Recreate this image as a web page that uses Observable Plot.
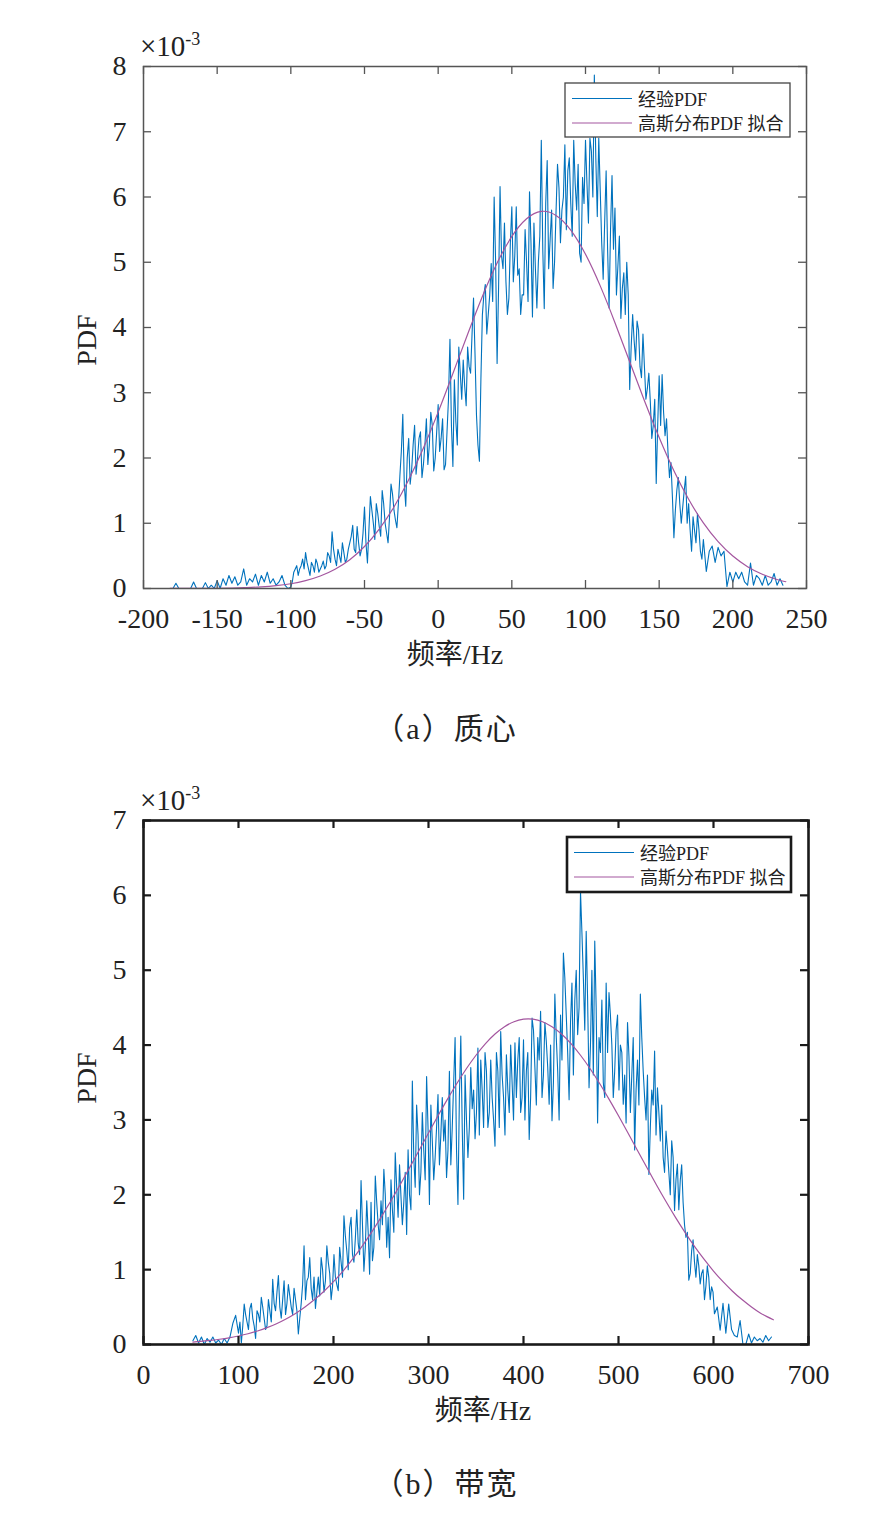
<!DOCTYPE html>
<html>
<head>
<meta charset="utf-8">
<script src="https://cdn.jsdelivr.net/npm/d3@7"></script>
<script src="https://cdn.jsdelivr.net/npm/@observablehq/plot@0.6"></script>
<style>
  html, body { margin: 0; padding: 0; background: #fff; }
  #wrap { position: relative; width: 892px; height: 1518px; overflow: hidden;
          font-family: "Liberation Serif", "Noto Sans CJK SC", serif; color: #222; }
  .panel { position: absolute; left: 0; }
  .cap { position: absolute; left: 0; width: 892px; text-align: center; font-size: 30px; letter-spacing: 2px;
         font-family: "Liberation Serif", "Noto Sans CJK SC", serif; color: #222; }
</style>
</head>
<body>
<div id="wrap">
  <div id="panelA" class="panel" style="top:0px"></div>
  <div class="cap" style="top:704px">（a）质心</div>
  <div id="panelB" class="panel" style="top:760px"></div>
  <div class="cap" style="top:1459px">（b）带宽</div>
</div>
<script>
// ---------------- DATA (PDF values in units of 10^-3) ----------------
const legendLabels = ["经验PDF", "高斯分布PDF 拟合"];
const xLabel = "频率/Hz";
const yLabel = "PDF";

// (a) 质心 centroid
const centroidXTicks = [-200, -150, -100, -50, 0, 50, 100, 150, 200, 250];
const centroidYTicks = [0, 1, 2, 3, 4, 5, 6, 7, 8];
const centroidEmpirical = [
  [-180,0],[-178,0.08],[-176,0],[-174,0],[-172,0],[-170,0],[-168,0],[-166,0.1],[-164,0],[-162,0],
  [-160,0],[-158,0.09],[-156,0],[-154,0.05],[-152,0],[-150,0.12],[-148,0],[-146,0.15],[-144,0.05],[-142,0.2],
  [-140,0.08],[-138,0.18],[-136,0.05],[-134,0.1],[-132,0.3],[-130,0.05],[-128,0.15],[-126,0.1],[-124,0.22],[-122,0.05],
  [-120,0.2],[-118,0.1],[-116,0.25],[-114,0.08],[-112,0.15],[-110,0.05],[-108,0.1],[-106,0.2],[-104,0.05],[-102,0],
  [-100,0.02],[-98,0.25],[-96,0.35],[-94,0.3],[-92,0.45],[-90,0.55],[-88,0.3],[-86,0.4],[-84,0.25],[-82,0.38],
  [-80,0.3],[-78,0.42],[-76,0.35],[-74,0.5],[-72,0.87],[-70,0.45],[-68,0.6],[-66,0.4],[-64,0.55],[-62,0.45],
  [-60,0.7],[-58,0.97],[-56,0.55],[-54,0.7],[-52,0.6],[-50,1.25],[-48,0.39],[-46,1.41],[-44,1.0],[-42,1.3],
  [-40,0.95],[-38,1.5],[-36,1.0],[-34,0.7],[-32,1.6],[-30,1.2],[-28,0.93],[-26,1.72],[-24,2.67],[-22,1.26],
  [-20,2.3],[-18,1.82],[-16,2.5],[-14,2.0],[-12,2.4],[-10,1.9],[-8,2.6],[-6,2.2],[-4,2.5],[-2,2.0],
  [0,2.82],[2,2.3],[4,1.82],[6,2.4],[8,3.82],[10,1.87],[12,2.56],[14,3.7],[16,2.9],[18,3.1],
  [20,3.7],[22,3.3],[24,4.45],[26,2.66],[28,1.95],[30,4.19],[32,4.66],[34,4.2],[36,4.98],[38,6.0],
  [40,3.45],[42,6.16],[44,4.9],[46,4.7],[48,4.45],[50,5.85],[52,5.1],[54,4.8],[56,4.2],[58,4.5],
  [60,5.0],[62,6.08],[64,4.16],[66,4.9],[68,5.0],[70,6.87],[72,4.29],[74,6.56],[76,5.35],[78,4.6],
  [80,5.77],[82,6.14],[84,5.8],[86,6.8],[88,6.4],[90,5.9],[92,6.87],[94,5.8],[96,5.14],[98,6.3],
  [100,6.87],[102,5.6],[104,6.7],[106,7.87],[108,5.7],[110,6.1],[112,4.74],[114,6.4],[116,4.3],[118,6.33],
  [120,5.83],[122,4.95],[124,4.14],[126,4.84],[128,5.0],[130,3.05],[132,4.2],[134,3.5],[136,3.96],[138,3.23],
  [140,3.4],[142,3.07],[144,2.86],[146,2.5],[148,1.61],[150,3.26],[152,3.28],[154,2.34],[156,2.08],[158,1.93],
  [160,0.78],[162,1.51],[164,1.3],[166,1.25],[168,1.72],[170,1.3],[172,0.57],[174,0.89],[176,1.15],[178,0.57],
  [180,0.75],[182,0.26],[184,0.57],[186,0.65],[188,0.4],[190,0.63],[192,0.5],[194,0.57],[196,0.03],[198,0.25],
  [200,0.1],[202,0.25],[204,0.15],[206,0.25],[208,0.1],[210,0.05],[212,0.39],[214,0.05],[216,0.2],[218,0.15],
  [220,0.05],[222,0.2],[224,0.05],[226,0.1],[228,0.23],[230,0.05],[232,0.15],[234,0.05]
];
const centroidEmpiricalOdd = [
  [-99,0.1],[-97,0.3],[-95,0.2],[-93,0.35],[-91,0.3],[-89,0.4],[-87,0.2],[-85,0.35],[-83,0.45],[-81,0.25],
  [-79,0.35],[-77,0.3],[-75,0.55],[-73,0.4],[-71,0.6],[-69,0.35],[-67,0.5],[-65,0.7],[-63,0.4],[-61,0.6],
  [-59,0.8],[-57,0.6],[-55,0.95],[-53,0.5],[-51,0.85],[-49,0.7],[-47,0.9],[-45,1.2],[-43,0.75],[-41,1.15],
  [-39,0.8],[-37,1.3],[-35,0.85],[-33,1.1],[-31,1.45],[-29,1.05],[-27,1.3],[-25,2.1],[-23,1.6],[-21,2.0],
  [-19,1.6],[-17,2.2],[-15,1.75],[-13,2.3],[-11,1.7],[-9,2.2],[-7,1.9],[-5,2.7],[-3,1.8],[-1,2.4],
  [1,2.1],[3,2.6],[5,1.9],[7,2.9],[9,2.5],[11,3.2],[13,2.2],[15,3.3],[17,3.5],[19,2.8],
  [21,3.4],[23,3.9],[25,3.6],[27,2.2],[29,3.2],[31,4.5],[33,3.9],[35,4.5],[37,4.4],[39,5.0],
  [41,4.6],[43,5.1],[45,5.6],[47,4.2],[49,5.3],[51,4.7],[53,5.85],[55,4.9],[57,4.5],[59,5.5],
  [61,4.4],[63,5.3],[65,5.6],[67,4.3],[69,5.4],[71,5.2],[73,5.9],[75,4.9],[77,5.8],[79,5.0],
  [81,6.5],[83,5.3],[85,6.0],[87,5.5],[89,6.6],[91,5.4],[93,6.2],[95,6.5],[97,5.0],[99,5.9],
  [101,6.2],[103,6.9],[105,6.0],[107,6.6],[109,6.9],[111,5.3],[113,5.6],[115,5.2],[117,5.5],[119,5.2],
  [121,4.5],[123,5.4],[125,4.6],[127,4.2],[129,4.5],[131,3.7],[133,3.8],[135,4.1],[137,3.4],[139,3.9],
  [141,2.9],[143,3.3],[145,2.3],[147,2.9],[149,2.5],[151,2.5],[153,2.7],[155,2.6],[157,1.7],[159,1.4],
  [161,1.2],[163,1.7],[165,1.0],[167,1.5],[169,1.0],[171,0.9],[173,1.1],[175,0.7],[177,0.9],[179,0.45]
];
const centroidFit = [
  [-182,0.0004],[-170,0.001],[-160,0.002],[-150,0.004],[-140,0.0075],[-130,0.014],[-120,0.025],[-110,0.043],
  [-100,0.073],[-90,0.12],[-80,0.191],[-70,0.295],[-60,0.442],[-50,0.644],[-40,0.911],[-30,1.25],
  [-20,1.666],[-10,2.154],[0,2.703],[10,3.295],[20,3.897],[30,4.475],[40,4.987],[50,5.396],
  [60,5.667],[70,5.78],[80,5.718],[90,5.494],[100,5.123],[110,4.638],[120,4.074],[130,3.476],
  [140,2.877],[150,2.313],[160,1.804],[170,1.367],[180,1.005],[190,0.717],[200,0.497],[210,0.334],
  [220,0.218],[230,0.138],[236,0.104]
];

// (b) 带宽 bandwidth
const bandwidthXTicks = [0, 100, 200, 300, 400, 500, 600, 700];
const bandwidthYTicks = [0, 1, 2, 3, 4, 5, 6, 7];
const bandwidthEmpirical = [
  [52,0.05],[55,0.12],[58,0.02],[61,0.1],[64,0],[67,0.08],[70,0.03],[73,0.1],[76,0.02],[79,0.06],
  [82,0],[85,0.08],[88,0.02],[91,0.1],[94,0.28],[97,0.39],[100,0.15],[103,0.02],[106,0.54],[109,0.3],
  [112,0.48],[115,0.35],[118,0.08],[121,0.4],[124,0.63],[127,0.35],[130,0.25],[133,0.45],[136,0.87],[139,0.45],
  [142,0.92],[145,0.35],[148,0.85],[151,0.55],[154,0.65],[157,0.4],[160,0.6],[163,0.14],[166,0.55],[169,1.32],
  [172,0.85],[175,1.16],[178,0.6],[181,0.48],[184,0.9],[187,1.16],[190,0.7],[193,1.32],[196,0.95],[199,0.78],
  [202,0.9],[205,0.72],[208,1.1],[211,1.72],[214,1.25],[217,1.56],[220,1.2],[223,1.42],[226,1.35],[229,2.19],
  [232,0.98],[235,1.92],[238,0.94],[241,1.12],[244,2.25],[247,1.6],[250,1.92],[253,2.34],[256,1.3],[259,1.16],
  [262,1.8],[265,2.56],[268,1.7],[271,1.98],[274,1.9],[277,1.47],[280,2.0],[283,3.52],[286,2.1],[289,2.8],
  [292,2.3],[295,2.6],[298,3.58],[301,1.87],[304,2.72],[307,2.5],[310,3.34],[313,2.8],[316,2.72],[319,2.23],
  [322,3.65],[325,2.9],[328,4.1],[331,1.87],[334,4.12],[337,1.94],[340,3.0],[343,2.9],[346,3.15],[349,2.75],
  [352,3.96],[355,3.8],[358,2.9],[361,3.65],[364,3.1],[367,3.3],[370,2.65],[373,3.65],[376,4.18],[379,3.3],
  [382,3.87],[385,3.1],[388,3.5],[391,4.03],[394,3.8],[397,3.1],[400,4.07],[403,3.65],[406,2.74],[409,4.36],
  [412,3.7],[415,4.1],[418,4.45],[421,3.6],[424,4.05],[427,3.21],[430,2.99],[433,4.68],[436,3.65],[439,4.4],
  [442,5.23],[445,4.4],[448,3.27],[451,4.83],[454,4.6],[457,4.14],[460,6.05],[463,4.9],[466,5.52],[469,3.43],
  [472,5.0],[475,5.39],[478,2.96],[481,3.9],[484,3.5],[487,4.83],[490,4.7],[493,4.0],[496,3.65],[499,4.4],
  [502,4.0],[505,3.21],[508,2.96],[511,3.85],[514,3.6],[517,2.6],[520,3.8],[523,4.68],[526,3.65],[529,3.0],
  [532,2.27],[535,3.4],[538,3.92],[541,3.43],[544,2.72],[547,2.5],[550,2.85],[553,2.3],[556,2.72],[559,1.79],
  [562,2.41],[565,2.19],[568,1.9],[571,1.43],[574,0.86],[577,1.25],[580,1.1],[583,1.2],[586,0.81],[589,1.0],
  [592,0.78],[595,0.9],[598,0.77],[601,0.41],[604,0.5],[607,0.19],[610,0.55],[613,0.15],[616,0.54],[619,0.2],
  [622,0.12],[625,0.1],[628,0.32],[631,0],[634,0],[637,0.14],[640,0.02],[643,0.1],[646,0.05],[649,0.08],
  [652,0.03],[655,0.12],[658,0.05],[661,0.1]
];
const bandwidthEmpiricalMid = [
  [101.5,0.3],[104.5,0.25],[107.5,0.4],[110.5,0.2],[113.5,0.55],[116.5,0.25],[119.5,0.45],[122.5,0.3],[125.5,0.5],[128.5,0.2],
  [131.5,0.6],[134.5,0.3],[137.5,0.55],[140.5,0.7],[143.5,0.5],[146.5,0.6],[149.5,0.4],[152.5,0.8],[155.5,0.5],[158.5,0.75],
  [161.5,0.45],[164.5,0.35],[167.5,0.8],[170.5,0.6],[173.5,0.9],[176.5,0.75],[179.5,0.9],[182.5,0.7],[185.5,0.65],[188.5,1.0],
  [191.5,0.85],[194.5,1.1],[197.5,0.6],
  [200.5,1.2],[203.5,0.8],[206.5,1.3],[209.5,0.9],[212.5,1.45],[215.5,1.0],[218.5,1.7],[221.5,1.1],[224.5,1.8],[227.5,1.2],
  [230.5,1.6],[233.5,1.3],[236.5,1.5],[239.5,1.9],[242.5,1.3],[245.5,1.9],[248.5,1.4],[251.5,1.6],[254.5,2.0],[257.5,1.7],
  [260.5,2.2],[263.5,1.5],[266.5,2.1],[269.5,2.4],[272.5,1.6],[275.5,2.3],[278.5,2.6],[281.5,1.8],[284.5,2.5],[287.5,3.2],
  [290.5,2.0],[293.5,3.1],[296.5,2.2],[299.5,2.9],[302.5,3.2],[305.5,2.2],[308.5,2.9],[311.5,2.4],[314.5,3.3],[317.5,3.0],
  [320.5,2.6],[323.5,2.4],[326.5,3.5],[329.5,2.6],[332.5,3.3],[335.5,2.9],[338.5,3.6],[341.5,2.5],[344.5,3.7],[347.5,3.4],
  [350.5,3.1],[353.5,2.8],[356.5,3.4],[359.5,3.9],[362.5,2.9],[365.5,3.8],[368.5,3.0],[371.5,3.9],[374.5,2.9],[377.5,3.6],
  [380.5,2.8],[383.5,3.4],[386.5,4.0],[389.5,3.0],[392.5,3.3],[395.5,4.1],[398.5,3.3],[401.5,3.0],[404.5,3.9],[407.5,3.3],
  [410.5,4.2],[413.5,3.2],[416.5,3.8],[419.5,3.3],[422.5,4.3],[425.5,3.7],[428.5,4.0],[431.5,3.5],[434.5,4.1],[437.5,3.0],
  [440.5,3.8],[443.5,4.9],[446.5,3.9],[449.5,4.3],[452.5,3.6],[455.5,5.0],[458.5,4.5],[461.5,5.5],[464.5,4.2],[467.5,4.6],
  [470.5,4.0],[473.5,3.6],[476.5,4.5],[479.5,4.1],[482.5,4.6],[485.5,3.3],[488.5,3.9],[491.5,4.4],[494.5,3.3],[497.5,4.2],
  [500.5,3.4],[503.5,3.9],[506.5,3.6],[509.5,4.3],[512.5,3.1],[515.5,4.1],[518.5,3.4],[521.5,3.2],[524.5,4.1],[527.5,3.3],
  [530.5,3.6],[533.5,2.9],[536.5,3.2],[539.5,2.8],[542.5,3.1],[545.5,3.2],[548.5,2.3],[551.5,2.6],[554.5,2.0],[557.5,2.5],
  [560.5,2.2],[563.5,1.8],[566.5,2.4],[569.5,1.6],[572.5,1.5],[575.5,0.95],[578.5,1.4],[581.5,0.9],[584.5,1.05],[587.5,0.95],
  [590.5,0.6],[593.5,1.05],[596.5,0.6],[599.5,0.7]
];
const bandwidthFit = [
  [52,0.033],[60,0.041],[70,0.054],[80,0.07],[90,0.089],[100,0.114],[110,0.144],[120,0.181],[130,0.225],
  [140,0.278],[150,0.341],[160,0.415],[170,0.501],[180,0.6],[190,0.712],[200,0.839],[210,0.981],[220,1.139],
  [230,1.311],[240,1.498],[250,1.698],[260,1.91],[270,2.131],[280,2.36],[290,2.592],[300,2.825],[310,3.055],
  [320,3.278],[330,3.49],[340,3.687],[350,3.864],[360,4.019],[370,4.147],[380,4.245],[390,4.312],[400,4.346],
  [410,4.346],[420,4.312],[430,4.245],[440,4.147],[450,4.019],[460,3.864],[470,3.687],[480,3.49],[490,3.278],
  [500,3.055],[510,2.825],[520,2.592],[530,2.36],[540,2.131],[550,1.91],[560,1.698],[570,1.498],[580,1.311],
  [590,1.139],[600,0.981],[610,0.839],[620,0.712],[630,0.6],[640,0.501],[650,0.415],[663,0.33]
];

// ---------------- STYLE ----------------
const BLUE = "#0072BD";
const PURPLE = "#a4569f";
const FONT = '"Liberation Serif", "Noto Sans CJK SC", serif';

function makePanel(cfg) {
  const W = 892;
  const frameW = W - cfg.ml - cfg.mr;
  const frameH = cfg.h - cfg.mt - cfg.mb;
  const tk = 8;
  const emp = d3.sort(cfg.emp, d => d[0]);
  const chart = Plot.plot({
    width: W, height: cfg.h,
    marginLeft: cfg.ml, marginRight: cfg.mr, marginTop: cfg.mt, marginBottom: cfg.mb,
    x: {domain: cfg.xDomain},
    y: {domain: cfg.yDomain},
    style: {fontFamily: FONT, fontSize: "28px", color: "#222", background: "white", overflow: "visible"},
    marks: [
      Plot.line(emp, {x: d => d[0], y: d => d[1], stroke: BLUE, strokeWidth: 1.1}),
      Plot.line(cfg.fit, {x: d => d[0], y: d => d[1], stroke: PURPLE, strokeWidth: 1.2, curve: "natural"}),
      // inward ticks on all four sides
      Plot.tickX(cfg.xTicks, {x: d => d, insetTop: frameH - tk, stroke: cfg.axisColor, strokeWidth: cfg.tickW}),
      Plot.tickX(cfg.xTicks, {x: d => d, insetBottom: frameH - tk, stroke: cfg.axisColor, strokeWidth: cfg.tickW}),
      Plot.tickY(cfg.yTicks, {y: d => d, insetRight: frameW - tk, stroke: cfg.axisColor, strokeWidth: cfg.tickW}),
      Plot.tickY(cfg.yTicks, {y: d => d, insetLeft: frameW - tk, stroke: cfg.axisColor, strokeWidth: cfg.tickW}),
      Plot.axisX({ticks: cfg.xTicks, tickSize: 0, tickPadding: 20, fontSize: 28, tickFormat: d => String(d), label: null, fill: "#222"}),
      Plot.axisY({ticks: cfg.yTicks, tickSize: 0, tickPadding: 17, fontSize: 28, tickFormat: d => String(d), label: null, fill: "#222"}),
      Plot.frame({stroke: cfg.axisColor, strokeWidth: cfg.frameW})
    ]
  });
  const svg = d3.select(chart);
  // x label
  svg.append("text").attr("x", cfg.xLabelX).attr("y", cfg.mt + frameH + 76)
    .attr("text-anchor", "middle").attr("font-size", 28).attr("font-family", FONT).attr("fill", "#222").text(xLabel);
  // y label
  svg.append("text").attr("transform", `translate(96,${cfg.yLabelY}) rotate(-90)`)
    .attr("text-anchor", "middle").attr("font-size", 28).attr("font-family", FONT).attr("fill", "#222").text(yLabel);
  // exponent ×10^-3
  const ex = svg.append("text").attr("x", 140).attr("y", cfg.mt - 10).attr("text-anchor", "start")
    .attr("font-family", FONT).attr("fill", "#222");
  ex.append("tspan").attr("font-size", 29).text("×10");
  ex.append("tspan").attr("font-size", 18).attr("dy", -11).text("-3");
  // legend
  const L = cfg.legend;
  const g = svg.append("g").attr("text-anchor", "start");
  g.append("rect").attr("x", L.x).attr("y", L.y).attr("width", L.w).attr("height", L.h)
    .attr("fill", "white").attr("stroke", L.stroke).attr("stroke-width", L.sw);
  [BLUE, PURPLE].forEach((c, i) => {
    const yy = L.y + 15.5 + i * 24.5;
    g.append("line").attr("x1", L.x + 7).attr("x2", L.x + 67).attr("y1", yy).attr("y2", yy)
      .attr("stroke", c).attr("stroke-width", 1.2);
    g.append("text").attr("x", L.x + 73).attr("y", yy + 7).attr("font-size", 18).attr("text-anchor", "start")
      .attr("font-family", FONT).attr("fill", "#222").text(legendLabels[i]);
  });
  return chart;
}

document.getElementById("panelA").appendChild(makePanel({
  h: 700, ml: 143, mr: 86, mt: 66, mb: 112,
  xDomain: [-200, 250], yDomain: [0, 8],
  xTicks: centroidXTicks, yTicks: centroidYTicks,
  emp: centroidEmpirical.concat(centroidEmpiricalOdd), fit: centroidFit,
  axisColor: "#555", frameW: 1.5, tickW: 1.3,
  xLabelX: 455, yLabelY: 340,
  legend: {x: 565, y: 83, w: 225, h: 54, stroke: "#444", sw: 1.3}
}));

document.getElementById("panelB").appendChild(makePanel({
  h: 690, ml: 143, mr: 84, mt: 60, mb: 106,
  xDomain: [0, 700], yDomain: [0, 7],
  xTicks: bandwidthXTicks, yTicks: bandwidthYTicks,
  emp: bandwidthEmpirical.concat(bandwidthEmpiricalMid), fit: bandwidthFit,
  axisColor: "#1a1a1a", frameW: 2.6, tickW: 2.2,
  xLabelX: 483, yLabelY: 318,
  legend: {x: 567, y: 77, w: 224, h: 55, stroke: "#1a1a1a", sw: 2.6}
}));
</script>
</body>
</html>
